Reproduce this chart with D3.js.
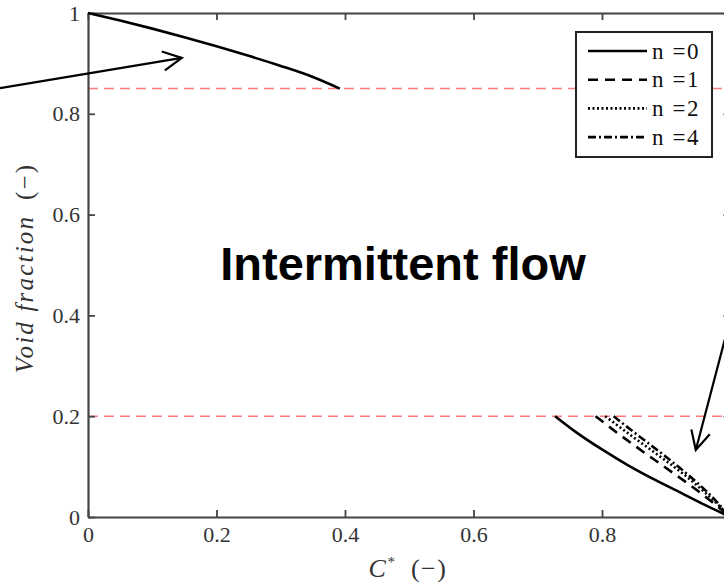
<!DOCTYPE html>
<html>
<head>
<meta charset="utf-8">
<script src="https://cdn.jsdelivr.net/npm/d3@7"></script>
<style>
  body { margin: 0; background: #fff; }
  text { font-family: "Liberation Serif", "DejaVu Serif", serif; }
</style>
</head>
<body>
<svg width="724" height="584"></svg>
<script>
// data
var xTicks = [0, 0.2, 0.4, 0.6, 0.8];
var yTicks = [0, 0.2, 0.4, 0.6, 0.8, 1];
var limits = [0.85, 0.2];
var seriesNames = ["n =0", "n =1", "n =2", "n =4"];

var upperN0 = [[0, 1], [0.05, 0.985], [0.1, 0.969], [0.15, 0.952], [0.2, 0.934],
               [0.25, 0.915], [0.3, 0.895], [0.35, 0.873], [0.392, 0.85]];
var lowerN0 = [[0.727, 0.2], [0.76, 0.168], [0.8, 0.134], [0.84, 0.103],
               [0.885, 0.072], [0.92, 0.05], [0.96, 0.024], [1, 0]];
var lowerN1 = [[0.79, 0.2], [0.83, 0.161], [0.87, 0.124], [0.91, 0.088], [0.95, 0.051], [1, 0]];
var lowerN2 = [[0.805, 0.2], [0.845, 0.162], [0.885, 0.125], [0.925, 0.087], [0.96, 0.049], [1, 0]];
var lowerN4 = [[0.818, 0.2], [0.855, 0.163], [0.895, 0.124], [0.93, 0.088], [0.965, 0.048], [1, 0]];

var dashes = ["none", "10,7", "2,2.5", "8,3,2,3"];

// annotation arrows, in data units: [start, tip]
var arrows = [[[-0.137, 0.851], [0.146, 0.911]],
              [[0.993, 0.361], [0.946, 0.133]]];

var svg = d3.select("svg");
var plotLeft = 88, plotTop = 13, plotRight = 730.5, plotBottom = 517;

var x = d3.scaleLinear().domain([0, 1]).range([plotLeft, plotRight]);
var y = d3.scaleLinear().domain([0, 1]).range([plotBottom, plotTop]);

var fmt = function(d) { return String(+d.toFixed(1)); };

// red limit lines
svg.selectAll(".limit")
    .data(limits)
    .enter().append("line")
    .attr("x1", x(0)).attr("x2", x(1))
    .attr("y1", function(d) { return y(d); })
    .attr("y2", function(d) { return y(d); })
    .attr("stroke", "#ff7b7b")
    .attr("stroke-width", 1.5)
    .attr("stroke-dasharray", "10,6");

// axes
var gx = svg.append("g")
    .attr("transform", "translate(0," + plotBottom + ")")
    .call(d3.axisBottom(x).tickValues(xTicks).tickFormat(fmt)
        .tickSizeInner(-7).tickSizeOuter(0).tickPadding(9));
var gxTop = svg.append("g")
    .attr("transform", "translate(0," + plotTop + ")")
    .call(d3.axisTop(x).tickValues(xTicks).tickFormat("")
        .tickSizeInner(-7).tickSizeOuter(0));
var gy = svg.append("g")
    .attr("transform", "translate(" + plotLeft + ",0)")
    .call(d3.axisLeft(y).tickValues(yTicks).tickFormat(fmt)
        .tickSizeInner(-7).tickSizeOuter(0).tickPadding(8));
var gyRight = svg.append("g")
    .attr("transform", "translate(" + plotRight + ",0)")
    .call(d3.axisRight(y).tickValues(yTicks).tickFormat("")
        .tickSizeInner(-7).tickSizeOuter(0));

[gx, gxTop, gy, gyRight].forEach(function(g) {
    g.selectAll("path.domain").attr("stroke", "#444").attr("stroke-width", 2.2);
    g.selectAll(".tick line").attr("stroke", "#444").attr("stroke-width", 1.8);
    g.selectAll(".tick text")
        .attr("font-family", "Liberation Serif")
        .attr("font-size", 22)
        .attr("fill", "#333");
});

// curves
var line = d3.line()
    .x(function(d) { return x(d[0]); })
    .y(function(d) { return y(d[1]); })
    .curve(d3.curveMonotoneX);

var curves = [
    { pts: upperN0, k: 0 },
    { pts: lowerN0, k: 0 },
    { pts: lowerN1, k: 1 },
    { pts: lowerN2, k: 2 },
    { pts: lowerN4, k: 3 }
];

svg.selectAll(".curve")
    .data(curves)
    .enter().append("path")
    .attr("d", function(d) { return line(d.pts); })
    .attr("fill", "none")
    .attr("stroke", "#000")
    .attr("stroke-width", 2.6)
    .attr("stroke-dasharray", function(d) { return dashes[d.k]; });

// arrows
arrows.forEach(function(a) {
    var x0 = x(a[0][0]), y0 = y(a[0][1]);
    var x1 = x(a[1][0]), y1 = y(a[1][1]);
    svg.append("line")
        .attr("x1", x0).attr("y1", y0)
        .attr("x2", x1).attr("y2", y1)
        .attr("stroke", "#000").attr("stroke-width", 2.2);
    var ang = Math.atan2(y0 - y1, x0 - x1);
    var len = 21, spread = 27 * Math.PI / 180;
    var p = [
        [x1 + len * Math.cos(ang + spread), y1 + len * Math.sin(ang + spread)],
        [x1, y1],
        [x1 + len * Math.cos(ang - spread), y1 + len * Math.sin(ang - spread)]
    ];
    svg.append("path")
        .attr("d", d3.line()(p))
        .attr("fill", "none")
        .attr("stroke", "#000").attr("stroke-width", 2.2);
});

// region label
svg.append("text")
    .attr("x", 403)
    .attr("y", 280)
    .attr("text-anchor", "middle")
    .style("font-family", "Liberation Sans, Arial, sans-serif")
    .attr("font-weight", "bold")
    .attr("font-size", 47)
    .attr("fill", "#000")
    .text("Intermittent flow");

// legend
var legend = svg.append("g");
legend.append("rect")
    .attr("x", 576).attr("y", 32)
    .attr("width", 136).attr("height", 125)
    .attr("fill", "#fff")
    .attr("stroke", "#222")
    .attr("stroke-width", 2);

var rows = legend.selectAll(".row")
    .data(seriesNames)
    .enter().append("g")
    .attr("transform", function(d, i) { return "translate(0," + (51 + i * 28.7) + ")"; });
rows.append("line")
    .attr("x1", 588).attr("x2", 647)
    .attr("stroke", "#000")
    .attr("stroke-width", 2.6)
    .attr("stroke-dasharray", function(d, i) { return dashes[i]; });
rows.append("text")
    .attr("x", 652)
    .attr("y", 7.5)
    .attr("font-size", 23)
    .attr("letter-spacing", 1.6)
    .attr("fill", "#111")
    .text(function(d) { return d; });

// axis titles
var xt = svg.append("text")
    .attr("x", 408)
    .attr("y", 577)
    .attr("text-anchor", "middle")
    .attr("font-size", 26)
    .attr("letter-spacing", 1.5)
    .attr("fill", "#333");
xt.append("tspan").attr("font-style", "italic").text("C");
xt.append("tspan").attr("font-size", 15).attr("dy", -10).text("*");
xt.append("tspan").attr("dy", 10).text("\u2002(\u2212)");

var yt = svg.append("text")
    .attr("transform", "translate(33,268) rotate(-90)")
    .attr("text-anchor", "middle")
    .attr("font-size", 25)
    .attr("letter-spacing", 2.2)
    .attr("fill", "#333");
yt.append("tspan").attr("font-style", "italic").text("Void fraction\u2002");
yt.append("tspan").text("(\u2212)");
</script>
</body>
</html>
